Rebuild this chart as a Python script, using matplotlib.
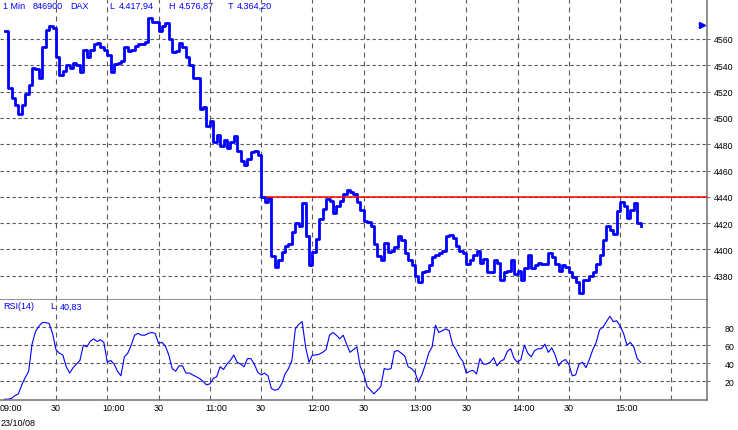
import numpy as np
import matplotlib
matplotlib.use("Agg")
import matplotlib.pyplot as plt
from matplotlib.transforms import ScaledTranslation

# DAX 1-minute chart, 23/10/08, one reading every two minutes after 09:00
price = [
    4566, 4523, 4515, 4510, 4503, 4510, 4518, 4525, 4538, 4537, 4530, 4554, 4567, 4570, 4568,
    4546, 4533, 4536, 4540, 4538, 4542, 4540, 4535, 4552, 4546, 4552, 4556, 4557, 4554, 4552,
    4548, 4535, 4541, 4542, 4543, 4554, 4551, 4552, 4555, 4556, 4556, 4558, 4576, 4573, 4573,
    4566, 4570, 4572, 4560, 4550, 4551, 4557, 4554, 4546, 4540, 4530, 4530, 4507, 4508, 4494,
    4498, 4482, 4487, 4479, 4483, 4477, 4482, 4486, 4475, 4467, 4464, 4469, 4474, 4475, 4472,
    4440, 4436, 4439, 4395, 4387, 4392, 4398, 4403, 4404, 4413, 4420, 4418, 4435, 4410, 4388,
    4398, 4408, 4423, 4431, 4438, 4437, 4428, 4433, 4437, 4442, 4445, 4444, 4442, 4436, 4430,
    4422, 4421, 4418, 4404, 4395, 4392, 4405, 4398, 4399, 4402, 4410, 4407, 4397, 4392, 4388,
    4380, 4375, 4383, 4384, 4388, 4394, 4396, 4397, 4399, 4410, 4411, 4409, 4403, 4399, 4397,
    4389, 4392, 4396, 4399, 4390, 4393, 4383, 4383, 4392, 4390, 4377, 4383, 4384, 4392, 4381,
    4384, 4377, 4386, 4396, 4386, 4388, 4390, 4389, 4389, 4397, 4394, 4389, 4384, 4388, 4387,
    4383, 4379, 4375, 4367, 4377, 4377, 4380, 4383, 4389, 4396, 4407, 4418, 4415, 4412, 4429,
    4436, 4433, 4424, 4430, 4435, 4420, 4418,
]
rsi = [
    0, 0, 1, 4, 6, 16, 24, 31, 61, 75, 81, 85, 85, 84, 73,
    55, 51, 49, 36, 29, 35, 39, 43, 60, 58, 64, 67, 64, 66, 63,
    41, 43, 39, 31, 26, 47, 51, 60, 71, 73, 71, 71, 73, 74, 73,
    62, 63, 59, 49, 34, 31, 37, 37, 29, 29, 27, 25, 23, 20, 16,
    17, 23, 25, 36, 33, 39, 43, 49, 41, 39, 36, 45, 45, 39, 30,
    27, 29, 26, 12, 10, 11, 17, 28, 34, 43, 78, 83, 86, 58, 41,
    49, 49, 50, 52, 55, 71, 74, 71, 67, 71, 61, 52, 55, 58, 36,
    28, 14, 10, 6, 10, 14, 34, 33, 34, 53, 54, 51, 48, 36, 34,
    30, 19, 27, 38, 51, 58, 82, 74, 76, 78, 76, 61, 55, 47, 42,
    29, 31, 32, 28, 45, 39, 39, 41, 46, 37, 42, 44, 53, 56, 45,
    41, 44, 60, 51, 47, 54, 56, 56, 61, 52, 57, 49, 37, 42, 44,
    39, 26, 27, 39, 41, 35, 44, 55, 63, 77, 80, 86, 92, 86, 87,
    81, 73, 60, 63, 58, 45, 41,
]
minutes = np.arange(0, 2 * len(price), 2)

price_ticks = [4380, 4400, 4420, 4440, 4460, 4480, 4500, 4520, 4540, 4560]
rsi_ticks = [20, 40, 60, 80]
grid_minutes = [30, 60, 90, 120, 150, 180, 210, 240, 270, 300, 330, 360, 390]
label_minutes = [0, 30, 60, 90, 120, 150, 180, 210, 240, 270, 300, 330, 360]
time_labels = ["09:00", "30", "10:00", "30", "11:00", "30", "12:00",
               "30", "13:00", "30", "14:00", "30", "15:00"]

resistance_level = 4440
resistance_start = 153
marker_price = 4571
marker_minute = 408

header = ["1 Min", "846900", "DAX", "L", "4.417,94", "H", "4.576,87", "T", "4.364,20"]
rsi_header = ["RSI(14)", "L", "40,83"]
date_label = "23/10/08"

BLUE = "#0000ff"
GRID = "#5a5a5a"
AXIS = "#707070"
W, H = 738, 431


def box(x0, y0, x1, y1):
    return [x0 / W, 1 - y1 / H, (x1 - x0) / W, (y1 - y0) / H]


def main():
    plt.rcParams['font.family'] = ['Liberation Sans', 'DejaVu Sans']
    fig = plt.figure(figsize=(W / 100, H / 100), dpi=100)
    ax = fig.add_axes(box(0, 0, 707.3, 301))
    ax2 = fig.add_axes(box(0, 301, 707.3, 400.7), sharex=ax)

    # price panel
    ax.plot(minutes, price, color=BLUE, lw=2.0, drawstyle='steps-post', zorder=3)
    ax.hlines(resistance_level, resistance_start, 411, color='red', lw=1.1, zorder=4)
    ax.plot([marker_minute], [marker_price], marker='>', ms=4, color=BLUE,
            clip_on=False, zorder=5)
    ax.set_xlim(-2.75, 411)
    ax.set_ylim(4361.6, 4590.4)
    ax.set_yticks(price_ticks)

    # RSI panel
    ax2.plot(minutes, rsi, color=BLUE, lw=0.8)
    ax2.set_ylim(-0.5, 110)
    ax2.set_yticks(rsi_ticks)

    for a in (ax, ax2):
        a.set_xticks(grid_minutes)
        a.xaxis.grid(True, color=GRID, lw=0.8, linestyle=(0, (4.5, 3.6)))
        a.yaxis.grid(True, color=GRID, lw=0.8, linestyle=(0, (3, 2.4)))
        a.set_axisbelow(True)
        a.tick_params(axis='x', length=0, labelbottom=False)
        a.yaxis.tick_right()
        a.tick_params(axis='y', direction='out', length=2.5, width=0.8,
                      color=AXIS, pad=2.5, labelsize=6.3)
        for side in ('left', 'top'):
            a.spines[side].set_visible(False)
        for side in ('right', 'bottom'):
            a.spines[side].set_color(AXIS)
            a.spines[side].set_linewidth(1.1)
    # RSI labels line up on the right with the price labels
    ax2.tick_params(axis='y', pad=10)

    # time labels below the RSI panel, hour labels sit a little right of the line
    for m, lab in zip(label_minutes, time_labels):
        dx = 6 / 100 if ":" in lab else 0
        tr = ax2.get_xaxis_transform() + ScaledTranslation(dx, 0, fig.dpi_scale_trans)
        ax2.text(m, -0.083, lab, transform=tr, ha='center', va='center', fontsize=6.5)
    fig.text(0.5 / W, 1 - 424 / H, date_label, ha='left', va='center', fontsize=6.5)

    # header lines
    for s, x in zip(header, [3, 33, 70, 109, 119, 168, 179, 228, 237]):
        fig.text(x / W, 1 - 6.5 / H, s, color=BLUE, ha='left', va='center', fontsize=6.5)
    for s, x in zip(rsi_header, [3, 50, 60]):
        fig.text(x / W, 1 - 307 / H, s, color=BLUE, ha='left', va='center', fontsize=6.5)

    fig.savefig("out.png", dpi=100)


if __name__ == '__main__':
    main()
